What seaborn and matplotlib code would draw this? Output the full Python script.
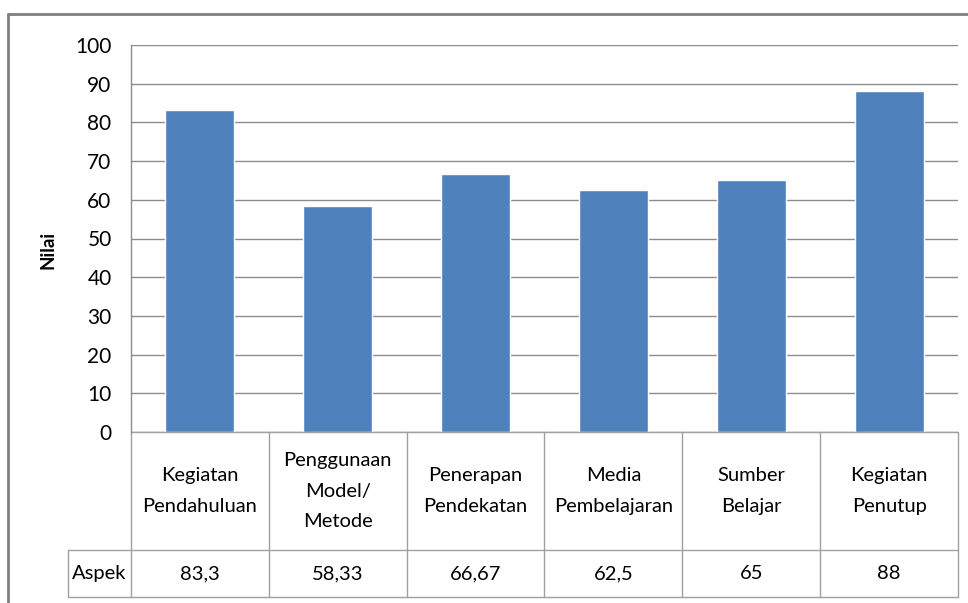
import matplotlib
matplotlib.use("Agg")
import matplotlib.pyplot as plt
import seaborn as sns
import pandas as pd
from matplotlib.lines import Line2D

categories = ["Kegiatan\nPendahuluan", "Penggunaan\nModel/\nMetode", "Penerapan\nPendekatan",
              "Media\nPembelajaran", "Sumber\nBelajar", "Kegiatan\nPenutup"]
values = [83.3, 58.33, 66.67, 62.5, 65, 88]
value_labels = ["83,3", "58,33", "66,67", "62,5", "65", "88"]
series_name = "Aspek"
y_ticks = [0, 10, 20, 30, 40, 50, 60, 70, 80, 90, 100]

sns.set_theme(style="white")
plt.rcParams['font.family'] = ['Lato', 'DejaVu Sans']
plt.rcParams['text.color'] = 'black'
plt.rcParams['ytick.color'] = 'black'

W, H = 968, 603
fig = plt.figure(figsize=(W / 100, H / 100), dpi=100)
L, T, R, B = 131, 45, 958, 432
ax = fig.add_axes([L / W, 1 - B / H, (R - L) / W, (B - T) / H])

df = pd.DataFrame({"cat": categories, "val": values})
sns.barplot(data=df, x="cat", y="val", color="#4F81BD", saturation=1, width=0.5, ax=ax)

ax.set_ylim(0, 100)
ax.set_xlim(-0.5, len(categories) - 0.5)
ax.set_yticks(y_ticks)
ax.set_yticklabels([str(t) for t in y_ticks], fontsize=15, color="black")
ax.tick_params(axis="y", length=0, pad=14)
ax.set_xticks([])
ax.set_xlabel("")
ax.set_ylabel("")
fig.text(48 / W, 1 - 250 / H, "Nilai", rotation=90, ha="center", va="center",
         fontsize=13.5, fontweight="bold", color="black")
ax.yaxis.grid(True, color="#8c8c8c", linewidth=1.0)
ax.set_axisbelow(True)
for s in ["top", "right", "bottom"]:
    ax.spines[s].set_visible(False)
ax.spines["left"].set_color("#8c8c8c")
ax.spines["left"].set_linewidth(1.0)

# data table below axes
tr = ax.get_xaxis_transform()
ppx = (R - L) / len(categories)
def yfrac(py):
    return (B - py) / (B - T)
y_top = yfrac(432)
y_mid = yfrac(550)
y_bot = yfrac(597)
x_left_cell = -0.5 + (68 - L) / ppx
n = len(categories)
lc = "#a0a0a0"
def line(xs, ys):
    ax.add_line(Line2D(xs, ys, transform=tr, color=lc, linewidth=1.0, clip_on=False))
line([-0.5, n - 0.5], [y_top, y_top])
line([x_left_cell, n - 0.5], [y_mid, y_mid])
line([x_left_cell, n - 0.5], [y_bot, y_bot])
for i in range(n + 1):
    line([i - 0.5, i - 0.5], [y_top, y_bot])
line([x_left_cell, x_left_cell], [y_mid, y_bot])

for i, (c, v) in enumerate(zip(categories, value_labels)):
    ax.text(i, (y_top + y_mid) / 2, c, transform=tr, ha="center", va="center",
            fontsize=14.5, linespacing=1.95, clip_on=False)
    ax.text(i, (y_mid + y_bot) / 2, v, transform=tr, ha="center", va="center",
            fontsize=14.5, clip_on=False)
ax.text((x_left_cell - 0.5) / 2, (y_mid + y_bot) / 2, series_name, transform=tr,
        ha="center", va="center", fontsize=14.5, clip_on=False)

# outer chart frame
fc = "#7f7f7f"
fig.add_artist(Line2D([8 / W, 1], [1 - 14 / H, 1 - 14 / H], transform=fig.transFigure, color=fc, linewidth=2))
fig.add_artist(Line2D([8 / W, 8 / W], [1 - 14 / H, 0], transform=fig.transFigure, color=fc, linewidth=2))

fig.savefig("out.png", dpi=100, facecolor="white")
